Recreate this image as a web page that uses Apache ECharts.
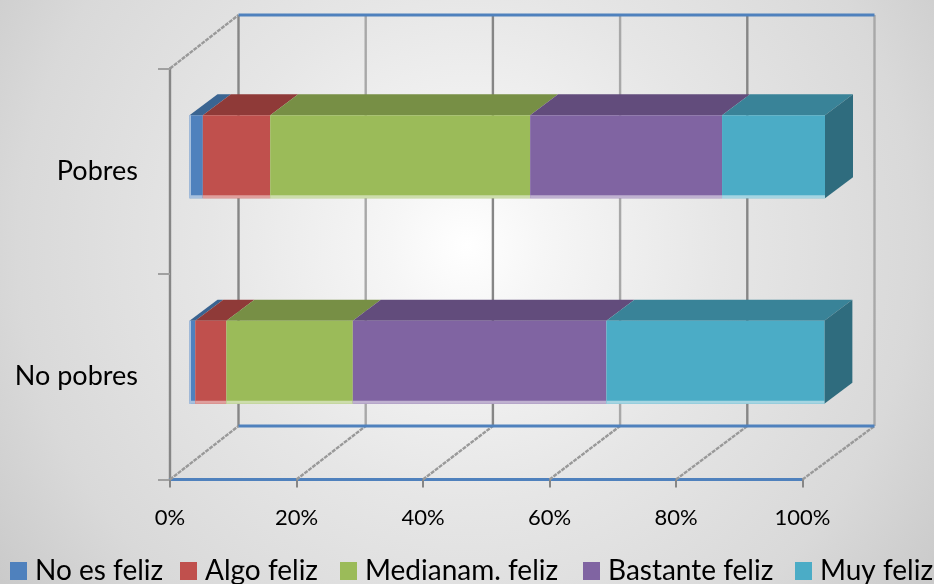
<!DOCTYPE html>
<html><head><meta charset="utf-8">
<style>html,body{margin:0;padding:0;background:#fff}#c{width:934px;height:584px}</style>
<script src="https://cdn.jsdelivr.net/npm/echarts@6/dist/echarts.min.js"></script>
</head><body><div id="c"></div>
<script>
const categories = ['No pobres', 'Pobres'];
const xTicks = [0, 20, 40, 60, 80, 100];
const noEsFeliz = [0.9, 2.1];
const algoFeliz = [4.9, 10.6];
const medianamFeliz = [19.9, 40.9];
const bastanteFeliz = [39.9, 30.2];
const muyFeliz = [34.3, 16.2];
const seriesNames = ['No es feliz', 'Algo feliz', 'Medianam. feliz', 'Bastante feliz', 'Muy feliz'];
const seriesValues = [noEsFeliz, algoFeliz, medianamFeliz, bastanteFeliz, muyFeliz];
const frontColors = ['#4F81BD', '#C0504D', '#9BBB59', '#8064A2', '#4BACC6'];
const topColors = ['#3A6491', '#8F3A38', '#778F45', '#624C7C', '#398398'];
const lightColors = ['#A7C0DE', '#DF9F9D', '#CDDDAC', '#BFB1D0', '#A5D5E2'];
const legendLefts = [10, 180, 340, 583, 795];
const FONT = 'Lato, "Liberation Sans", sans-serif';
const WALL = {dx0: 68.5, dx1: 72, dy: -53.5};
const BAR = {dx0: 19.5, dx1: 22.5, dy: -14.5, ddx: 28, ddy: -21, h: 83, edge: 3};

function wallOffset(v) { return WALL.dx0 + (WALL.dx1 - WALL.dx0) * v / 100; }
function barOffset(v) { return BAR.dx0 + (BAR.dx1 - BAR.dx0) * v / 100; }

function renderWall(params, api) {
  const kids = [];
  const bottom = params.coordSys.y + params.coordSys.height;
  const top = params.coordSys.y;
  const gray = '#868686', blue = '#4F81BD', diag = '#999999';
  const line = (x1, y1, x2, y2, stroke, w, dash) => kids.push({type: 'line', shape: {x1, y1, x2, y2},
    style: {stroke, lineWidth: w || 2, lineDash: dash || null}});
  xTicks.forEach((v) => {
    const x = api.coord([v, 0])[0];
    const bx = x + wallOffset(v);
    line(bx, top + WALL.dy, bx, bottom + WALL.dy, v % 40 === 20 || v === 100 ? '#A8A8A8' : gray, 2.4);
    line(x, bottom, bx, bottom + WALL.dy, diag, 2.4, [4, 1]);
  });
  const x0 = api.coord([0, 0])[0];
  const x1 = api.coord([100, 0])[0];
  line(x0, top, x0 + wallOffset(0), top + WALL.dy, diag, 2.4, [4, 1]);
  line(x0 + wallOffset(0), top + WALL.dy, x1 + wallOffset(100), top + WALL.dy, blue, 3);
  line(x0 + wallOffset(0), bottom + WALL.dy, x1 + wallOffset(100), bottom + WALL.dy, blue, 3);
  return {type: 'group', children: kids};
}

function makeRenderBar(si) {
  return function (params, api) {
    const cat = api.value(0), start = api.value(1), end = api.value(2);
    const c = api.coord([0, cat]);
    const yc = c[1] + BAR.dy;
    const top = yc - BAR.h / 2, bot = yc + BAR.h / 2;
    const xa = api.coord([start, cat])[0] + barOffset(start);
    const xb = api.coord([end, cat])[0] + barOffset(end);
    const kids = [];
    kids.push({type: 'polygon', shape: {points: [[xa, top], [xb, top], [xb + BAR.ddx, top + BAR.ddy], [xa + BAR.ddx, top + BAR.ddy]]},
      style: {fill: topColors[si]}});
    if (si === seriesValues.length - 1) {
      kids.push({type: 'polygon', shape: {points: [[xb, top], [xb + BAR.ddx, top + BAR.ddy], [xb + BAR.ddx, bot + BAR.ddy], [xb, bot]]},
        style: {fill: '#2F6C7E'}});
    }
    kids.push({type: 'rect', shape: {x: xa, y: top, width: xb - xa, height: bot - top}, style: {fill: frontColors[si]}});
    kids.push({type: 'rect', shape: {x: xa, y: bot - BAR.edge, width: xb - xa, height: BAR.edge}, style: {fill: lightColors[si]}});
    if (si === 0) kids.push({type: 'rect', shape: {x: xa, y: top, width: 1.5, height: bot - top}, style: {fill: lightColors[si]}});
    return {type: 'group', children: kids};
  };
}

const barSeries = seriesNames.map((name, si) => ({
  name, type: 'custom', coordinateSystem: 'cartesian2d', z: 3 + si,
  itemStyle: {color: frontColors[si]},
  renderItem: makeRenderBar(si),
  encode: {x: [1, 2], y: 0},
  data: categories.map((_, ci) => {
    let s = 0;
    for (let k = 0; k < si; k++) s += seriesValues[k][ci];
    return [ci, s, s + seriesValues[si][ci]];
  })
}));

const chart = echarts.init(document.getElementById('c'), null, {renderer: 'canvas'});
chart.setOption({
  animation: false,
  backgroundColor: {type: 'radial', x: 0.5, y: 0.42, r: 1.1,
    colorStops: [{offset: 0, color: '#FFFFFF'}, {offset: 0.12, color: '#F6F6F6'}, {offset: 0.4, color: '#E6E6E6'}, {offset: 0.7, color: '#D9D9D9'}, {offset: 1, color: '#C2C2C2'}]},
  grid: {left: 170, right: 131.5, top: 68.5, bottom: 104.5, containLabel: false},
  legend: seriesNames.map((n, i) => ({
    data: [n], left: legendLefts[i], top: 557, itemWidth: 17, itemHeight: 18, itemGap: 0, padding: 0,
    icon: 'rect', textStyle: {fontFamily: FONT, fontSize: 28, color: '#000', padding: [0, 0, 0, 3]},
    selectedMode: false
  })),
  xAxis: {
    type: 'value', min: 0, max: 100, interval: 20,
    axisLine: {show: true, lineStyle: {color: '#4F81BD', width: 3}},
    axisTick: {show: true, length: 8, lineStyle: {color: '#868686', width: 2}},
    axisLabel: {formatter: '{value}%', fontFamily: FONT, fontSize: 22, color: '#000', margin: 27},
    splitLine: {show: false}
  },
  yAxis: {
    type: 'category', data: categories,
    axisLine: {show: true, onZero: false, lineStyle: {color: '#868686', width: 2.4}},
    axisTick: {show: true, length: 12, lineStyle: {color: '#A0A0A0', width: 2}},
    axisLabel: {fontFamily: FONT, fontSize: 27, color: '#000', margin: 32, padding: [3, 0, 0, 0]},
    splitLine: {show: false}
  },
  series: [{
    type: 'custom', coordinateSystem: 'cartesian2d', silent: true, z: 1, clip: false,
    renderItem: renderWall, data: [[0, 0]], encode: {x: 0, y: 1}
  }].concat(barSeries)
});
</script></body></html>
